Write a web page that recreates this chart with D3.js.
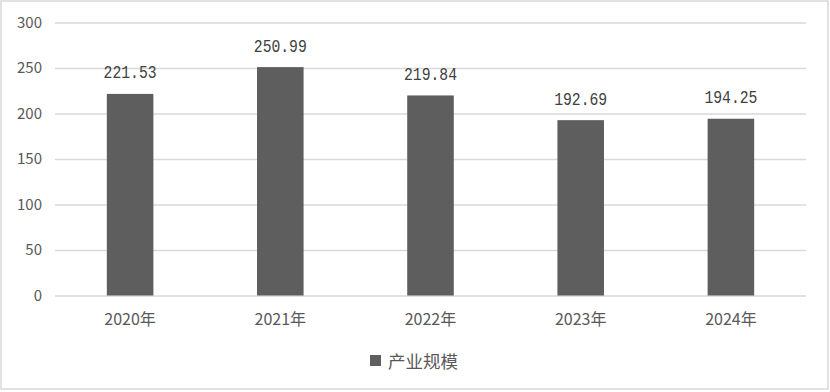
<!DOCTYPE html>
<html><head><meta charset="utf-8">
<script src="https://cdn.jsdelivr.net/npm/d3@7"></script>
<style>body{margin:0;background:#fff}svg{display:block}</style>
</head><body><svg id="c" width="830" height="392"></svg>
<script>
const categories = ["2020年","2021年","2022年","2023年","2024年"];
const values = [221.53, 250.99, 219.84, 192.69, 194.25];
const valueLabels = ["221.53","250.99","219.84","192.69","194.25"];
const yTicks = [0, 50, 100, 150, 200, 250, 300];
const seriesName = "产业规模";

const svg = d3.select("#c");
const font = "'Noto Sans CJK SC','Noto Sans',sans-serif";
svg.append("rect").attr("x",1).attr("y",1).attr("width",827).attr("height",388)
  .attr("fill","#fff").attr("stroke","#d9d9d9").attr("stroke-width",1.5);

const x = d3.scaleBand().domain(categories).range([55, 806]).paddingInner(0.69).paddingOuter(0.345);
const y = d3.scaleLinear().domain([0, 300]).range([295.5, 22.5]);

const yAxis = svg.append("g").attr("transform","translate(55,0)")
  .call(d3.axisLeft(y).tickValues(yTicks).tickSize(-751).tickPadding(13));
yAxis.select(".domain").remove();
yAxis.selectAll(".tick line").attr("stroke","#d9d9d9").attr("stroke-width",1.5);
yAxis.selectAll(".tick text").attr("fill","#595959").style("font-family",font).style("font-size","15px");

svg.selectAll("rect.bar").data(values).join("rect").attr("class","bar")
  .attr("x",(d,i)=>x(categories[i])).attr("width",x.bandwidth())
  .attr("y",d=>y(d)).attr("height",d=>y(0)-y(d)).attr("fill","#5e5e5e");

svg.selectAll("text.vl").data(values).join("text").attr("class","vl")
  .attr("x",(d,i)=>x(categories[i])+x.bandwidth()/2).attr("y",d=>y(d)-15.5)
  .attr("text-anchor","middle").attr("fill","#404040")
  .style("font-family","'Liberation Mono',monospace").style("font-size","18.5px")
  .attr("textLength",53).attr("lengthAdjust","spacingAndGlyphs")
  .text((d,i)=>valueLabels[i]);

const xAxis = svg.append("g").attr("transform","translate(0,295.5)")
  .call(d3.axisBottom(x).tickSize(0).tickPadding(18));
xAxis.select(".domain").remove();
xAxis.selectAll(".tick text").attr("fill","#595959").style("font-family",font).style("font-size","16px");

const lg = svg.append("g");
lg.append("rect").attr("x",370).attr("y",355).attr("width",11).attr("height",11).attr("fill","#5e5e5e");
lg.append("text").attr("x",388).attr("y",360.5).attr("dominant-baseline","central")
  .attr("fill","#595959").style("font-family",font).style("font-size","17.5px").text(seriesName);
</script></body></html>
